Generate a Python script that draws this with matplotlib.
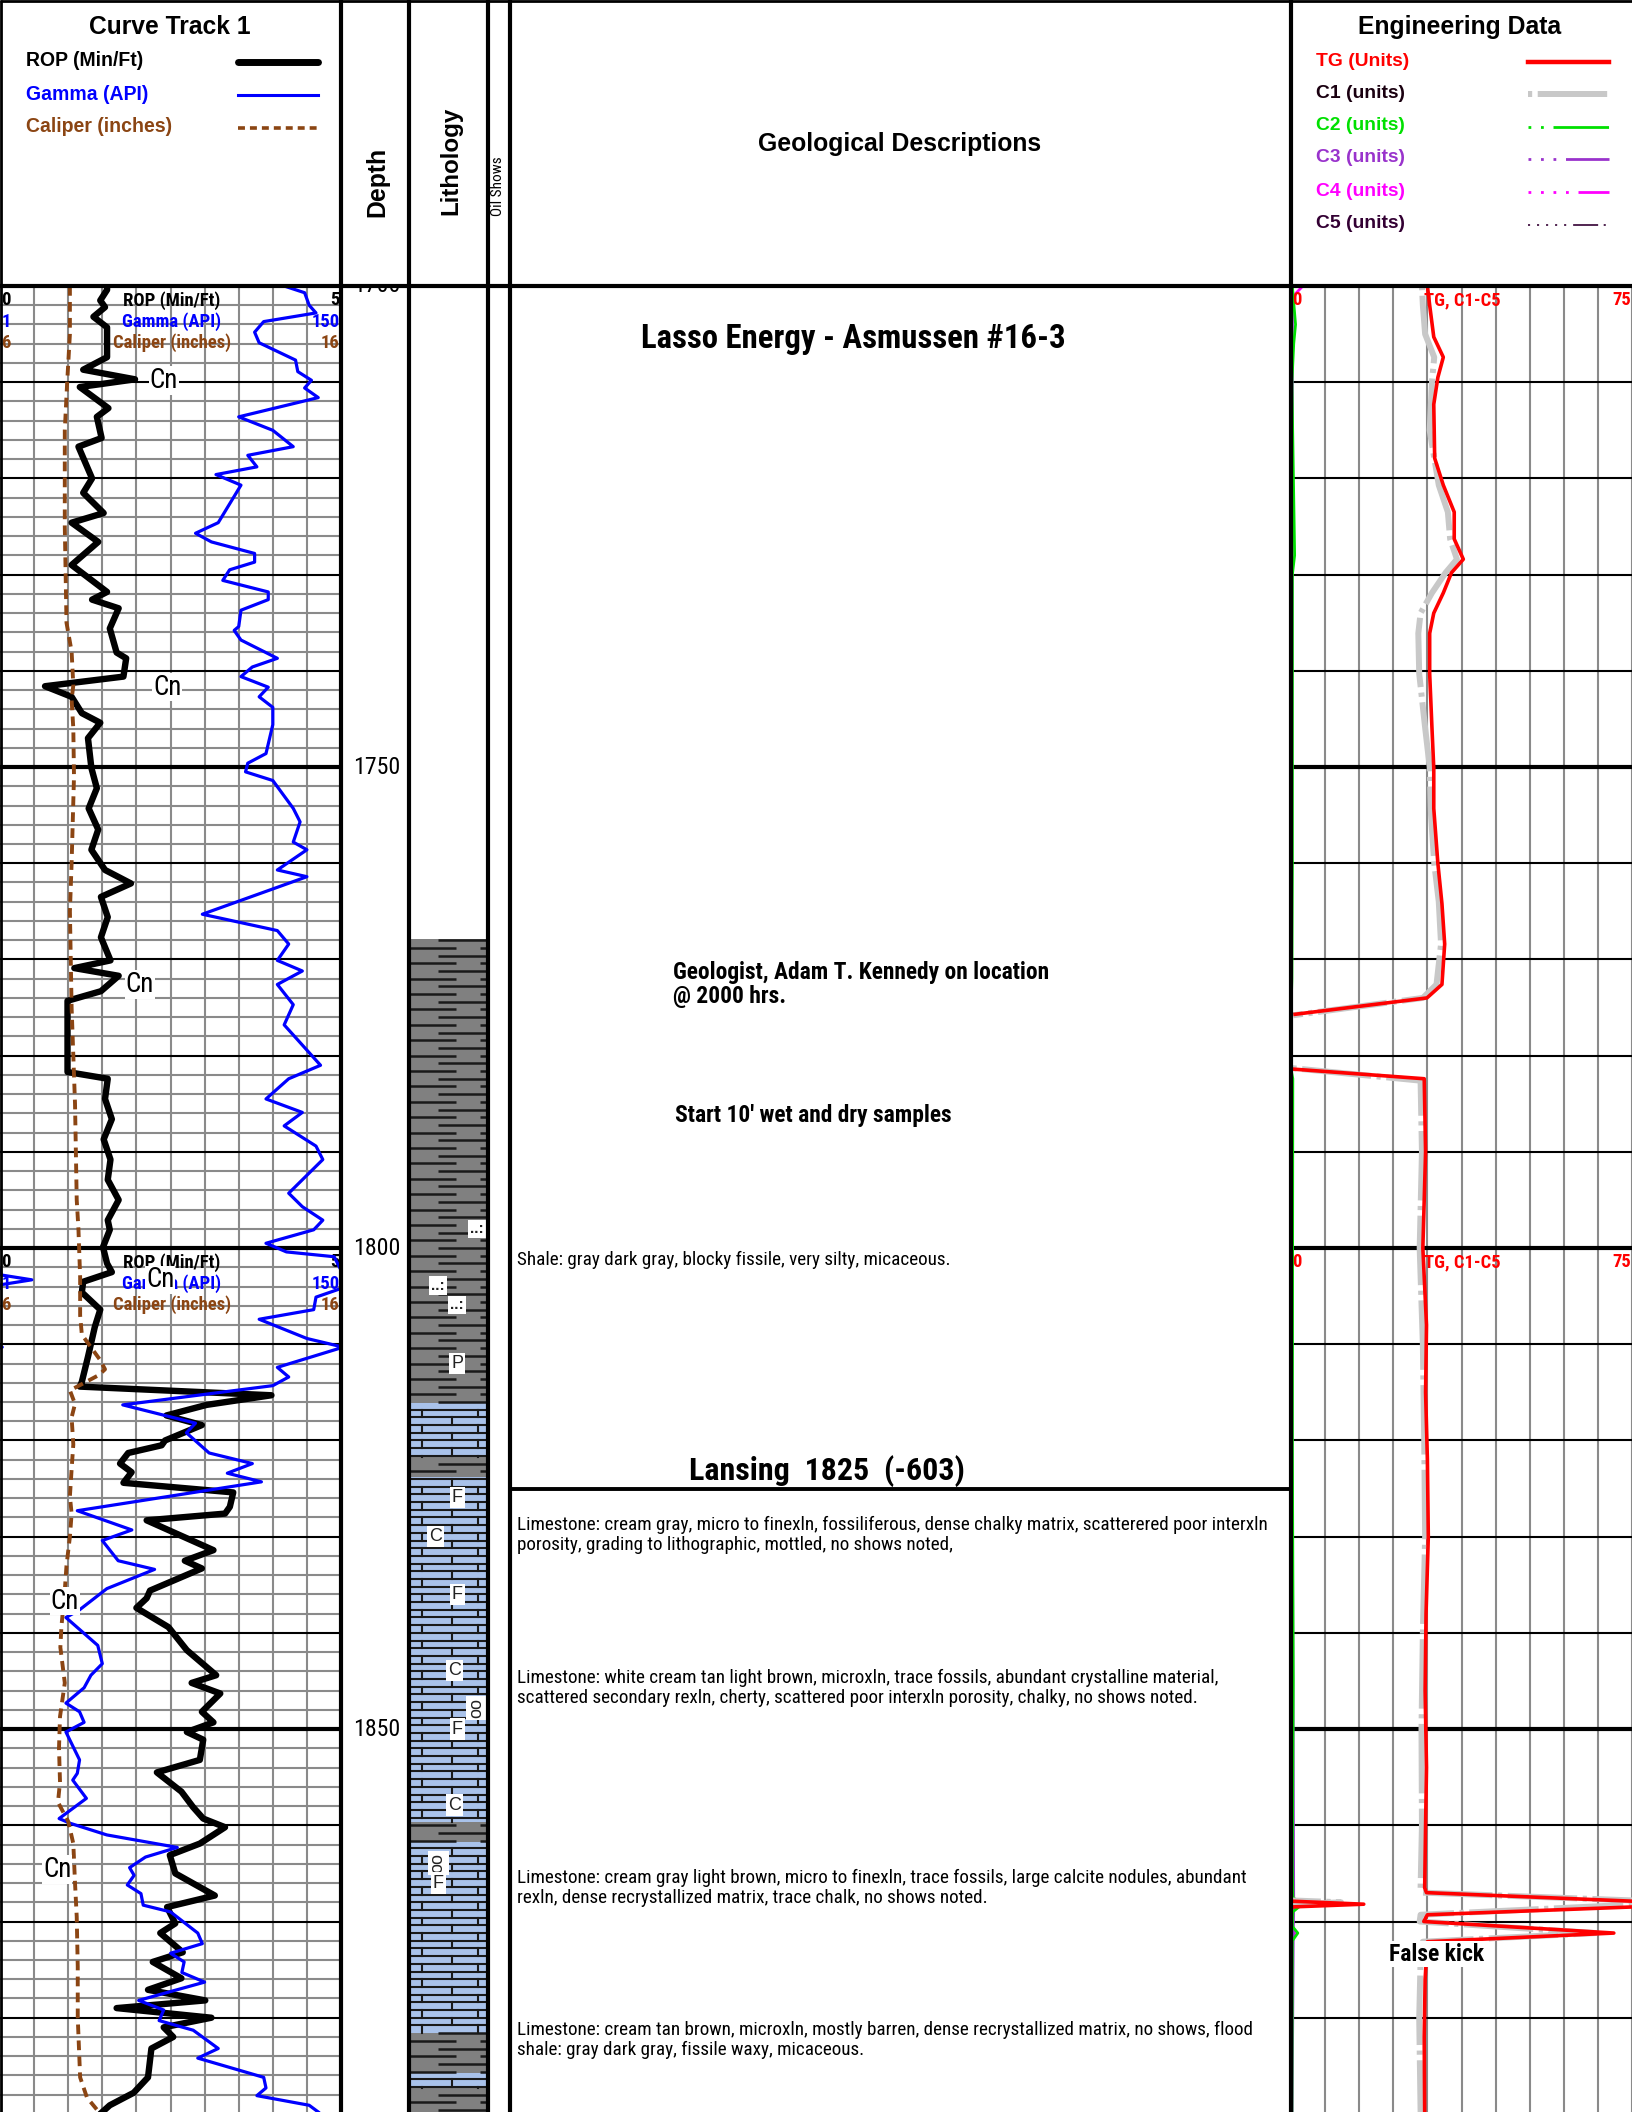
import numpy as np
import matplotlib
matplotlib.use('Agg')
import matplotlib.pyplot as plt
from matplotlib import font_manager
from matplotlib.font_manager import FontProperties
from matplotlib.textpath import TextPath

FONT = 'Liberation Sans'
_names = {f.name for f in font_manager.fontManager.ttflist}
NARROW = next((n for n in ['Liberation Sans Narrow', 'Arial Narrow', 'Roboto Condensed'] if n in _names), FONT)
plt.rcParams['font.family'] = [FONT, 'DejaVu Sans']
plt.rcParams['lines.scale_dashes'] = False

W, H, HEAD = 1632, 2112, 286
TOP, BASE = 1700, 1889.8

# ---------------- curve track 1 ----------------
rop_depth = [1700.0, 1700.4, 1701.5, 1702.2, 1703.2, 1704.3, 1707.4, 1708.7, 1709.7, 1710.5,
             1712.7, 1713.6, 1715.8, 1716.7, 1720.0, 1721.5, 1723.6, 1724.6, 1726.6, 1729.0,
             1731.8, 1732.6, 1733.5, 1735.6, 1738.1, 1738.7, 1740.6, 1741.6, 1742.7, 1744.4,
             1745.4, 1747.0, 1750.1, 1752.2, 1754.3, 1756.5, 1758.6, 1760.7, 1762.1, 1763.5,
             1765.6, 1767.7, 1770.1, 1770.9, 1771.7, 1773.3, 1774.3, 1781.7, 1782.4, 1784.5,
             1786.6, 1788.7, 1790.8, 1792.9, 1795.0, 1797.1, 1798.1, 1799.9, 1801.6, 1802.5,
             1803.5, 1804.6, 1806.4, 1808.2, 1811.3, 1813.9, 1814.4, 1815.3, 1816.3, 1817.4,
             1818.4, 1820.0, 1820.5, 1821.3, 1822.4, 1823.3, 1824.4, 1825.4, 1826.9, 1827.6,
             1828.3, 1831.4, 1832.5, 1833.3, 1835.6, 1836.4, 1837.4, 1839.4, 1841.8, 1844.4,
             1845.2, 1846.3, 1848.2, 1849.3, 1850.3, 1851.1, 1853.2, 1854.5, 1856.5, 1858.1,
             1859.3, 1860.2, 1861.9, 1863.1, 1865.0, 1867.3, 1868.5, 1870.2, 1871.2, 1873.2,
             1874.2, 1875.9, 1877.1, 1878.2, 1879.0, 1880.0, 1881.0, 1882.0, 1883.2, 1886.2,
             1887.8, 1889.1, 1889.8]
rop = [1.57, 1.57, 1.47, 1.54, 1.37, 1.57, 1.57, 1.22, 1.98, 1.17,
       1.59, 1.42, 1.49, 1.15, 1.35, 1.22, 1.52, 1.05, 1.44, 1.05,
       1.57, 1.35, 1.74, 1.61, 1.71, 1.85, 1.81, 0.66, 1.05, 1.20,
       1.47, 1.29, 1.34, 1.42, 1.30, 1.44, 1.34, 1.54, 1.92, 1.48,
       1.58, 1.48, 1.62, 1.09, 1.74, 1.48, 0.99, 0.99, 1.58, 1.54,
       1.64, 1.52, 1.62, 1.58, 1.74, 1.58, 1.61, 1.51, 1.57, 1.64,
       1.22, 1.20, 1.47, 1.39, 1.29, 1.20, 1.17, 3.98, 3.03, 2.44,
       2.96, 2.42, 2.37, 1.88, 1.76, 1.93, 1.81, 3.42, 3.37, 3.30,
       2.15, 3.13, 2.71, 2.96, 2.20, 2.15, 2.00, 2.47, 2.74, 3.17,
       2.81, 3.23, 2.96, 3.13, 2.74, 2.98, 2.93, 2.30, 2.66, 2.83,
       2.98, 3.30, 2.93, 2.49, 2.57, 3.15, 2.45, 2.57, 2.35, 2.68,
       2.24, 2.66, 2.17, 3.01, 1.71, 3.10, 2.40, 2.54, 2.22, 2.17,
       1.96, 1.61, 1.50]

gamma_depth = [1700.0, 1700.7, 1702.0, 1702.8, 1703.7, 1704.8, 1705.9, 1707.7, 1708.9, 1709.8,
               1710.6, 1711.6, 1713.6, 1715.0, 1716.7, 1717.6, 1718.8, 1719.6, 1720.7, 1724.6,
               1725.7, 1726.6, 1727.8, 1728.7, 1729.5, 1730.6, 1731.8, 1732.6, 1733.7, 1735.4,
               1735.8, 1736.8, 1738.7, 1739.6, 1740.6, 1741.7, 1742.7, 1743.8, 1745.6, 1748.6,
               1749.6, 1750.5, 1751.4, 1754.3, 1755.7, 1757.8, 1758.6, 1760.7, 1761.4, 1765.3,
               1767.0, 1768.4, 1770.1, 1771.2, 1772.6, 1774.7, 1776.8, 1778.9, 1781.0, 1782.4,
               1784.5, 1785.9, 1787.3, 1789.4, 1790.8, 1792.9, 1794.3, 1795.7, 1797.1, 1798.1,
               1799.5, 1800.4, 1800.9, 1802.3, 1802.8, 1803.3, 1803.8, 1804.2, 1805.1, 1806.4,
               1807.4, 1809.4, 1810.3, 1812.4, 1813.4, 1814.3, 1816.3, 1818.2, 1819.2, 1821.3,
               1822.4, 1823.4, 1824.3, 1827.3, 1829.3, 1830.4, 1832.5, 1833.4, 1835.4, 1837.6,
               1838.4, 1841.3, 1843.2, 1844.4, 1845.7, 1847.3, 1848.2, 1849.3, 1850.3, 1853.2,
               1854.6, 1855.3, 1857.2, 1859.3, 1859.8, 1861.0, 1862.3, 1863.3, 1864.4, 1865.2,
               1866.2, 1867.1, 1868.3, 1869.0, 1871.2, 1872.3, 1873.3, 1874.2, 1875.3, 1876.3,
               1878.2, 1879.2, 1880.3, 1881.3, 1883.2, 1884.2, 1886.2, 1887.3, 1888.1, 1889.1,
               1889.8]
gamma = [125, 134, 136, 139, 116, 112, 114, 130, 131, 137,
         134, 140, 105, 120, 129, 109, 113, 95, 106, 96,
         86, 93, 112, 112, 101, 98, 118, 118, 106, 105,
         103, 106, 122, 111, 106, 118, 114, 120, 120, 117,
         109, 108, 120, 129, 132, 129, 135, 122, 135, 89,
         122, 127, 122, 133, 122, 129, 125, 133, 141, 127,
         117, 133, 125, 139, 142, 133, 127, 133, 142, 138,
         117, 126, 147, 150.0, 150.6, 164, 150.6, 150.0, 139, 138,
         114, 135, 151, 122, 127, 120, 54, 86, 82, 92,
         111, 100, 115, 34, 58, 45, 52, 68, 47, 35,
         29, 43, 45, 40, 37, 29, 35, 37, 29, 35,
         34, 32, 38, 26, 31, 47, 78, 64, 57, 59,
         56, 62, 63, 75, 87, 89, 75, 81, 80, 90,
         61, 72, 70, 85, 96, 87, 116, 117, 113, 136,
         140]

cal_depth = [1700, 1705, 1710, 1715, 1725, 1735, 1738, 1741.5, 1743, 1746, 1751, 1760, 1765,
             1775, 1785, 1795, 1798, 1803, 1807, 1809, 1811.6, 1812.6, 1813.2, 1814.8,
             1816.2, 1817.6, 1820.4, 1823, 1825.8, 1827.6, 1830, 1833, 1835.6, 1839.4,
             1841.5, 1845.2, 1848.7, 1852, 1855.5, 1857.6, 1859.6, 1861.9, 1866, 1869.5,
             1874.7, 1880, 1886.2, 1888.3, 1889.8]
caliper = [8.05, 8.05, 7.97, 7.9, 7.9, 7.95, 8.1, 8.15, 8.1, 8.15, 8.17, 8.1, 8.05,
           8.1, 8.2, 8.25, 8.3, 8.35, 8.35, 8.4, 8.93, 9.08, 8.9, 8.05,
           8.2, 8.1, 8.15, 8.1, 8.05, 8.1, 8.05, 7.95, 7.9, 7.8,
           7.77, 7.9, 7.76, 7.73, 7.76, 7.7, 8.0, 8.15, 8.2, 8.25,
           8.28, 8.28, 8.35, 8.55, 8.9]

cn_depth = [1709.8, 1741.7, 1772.6, 1803.3, 1836.7, 1864.6]
cn_rop = [2.40, 2.45, 2.05, 2.35, 0.95, 0.84]

# ---------------- engineering data ----------------
nan = np.nan
tg_depth = [1700.0, 1702.0, 1705.3, 1707.4, 1709.5, 1712.3, 1717.9, 1720.7, 1723.5, 1726.3,
            1728.4, 1729.8, 1731.9, 1734.0, 1736.1, 1740.3, 1745.9, 1750.1, 1754.3, 1760.0,
            1764.2, 1768.4, 1772.6, 1774.0, 1775.7, 1778.0, 1781.4, 1782.4, 1790.0, 1800.0,
            1808.0, 1815.0, 1822.0, 1830.0, 1838.0, 1846.0, 1854.0, 1860.0, 1866.5, 1867.0,
            1868.2, 1869.3, 1870.0, 1871.2, 1872.1, 1876.0, 1882.0, 1889.8]
tg = [30.0, 30.5, 31.4, 33.5, 32.3, 31.4, 31.6, 33.5, 35.9, 35.9,
      37.9, 35.3, 33.5, 31.4, 30.5, 30.5, 31.0, 31.4, 31.4, 32.3,
      33.2, 33.8, 33.2, 29.9, 0.9, nan, 0.5, 29.3, 29.6, 29.0,
      29.8, 29.6, 30.0, 30.2, 29.7, 29.5, 29.8, 29.6, 29.4, 29.8,
      91.0, 30.0, 29.2, 71.0, 30.0, 29.5, 29.3, 29.4]

c1_depth = [1700.0, 1702.0, 1705.0, 1707.4, 1710.0, 1715.0, 1720.7, 1723.5, 1726.3, 1728.4,
            1729.8, 1731.9, 1734.0, 1736.1, 1740.3, 1745.9, 1750.0, 1755.0, 1760.0, 1764.0,
            1768.4, 1772.6, 1774.0, 1775.8, 1778.0, 1781.3, 1782.6, 1790.0, 1800.0, 1810.0,
            1820.0, 1830.0, 1840.0, 1850.0, 1860.0, 1866.5, 1867.0, 1868.0, 1869.3, 1870.0,
            1871.2, 1872.1, 1874.0, 1880.0, 1889.8]
c1 = [28.8, 29.0, 29.5, 31.5, 31.0, 30.5, 32.5, 34.5, 35.0, 36.5,
      34.0, 31.0, 28.5, 28.0, 28.2, 29.5, 30.5, 30.8, 31.5, 32.5,
      33.0, 32.0, 29.0, 0.5, nan, 0.3, 28.5, 28.8, 28.3, 29.0,
      29.3, 29.5, 29.0, 28.7, 28.8, 28.5, 29.0, 86.0, 28.5, 28.3,
      67.0, 29.0, 28.5, 28.2, 28.5]

c2_depth = [1700, 1704, 1706, 1710, 1728, 1730, 1760, 1772, 1775.7, 1778, 1781.4, 1782.4,
            1820, 1845, 1864, 1867.5, 1868.2, 1869, 1870.5, 1871.2, 1872, 1889.8]
c2 = [0.3, 1.0, 0.6, 0.2, 0.8, 0.3, 0.3, 0.2, 0.0, nan, 0.0, 0.4,
      0.3, 0.5, 0.3, 0.4, 2.5, 0.4, 0.3, 1.5, 0.3, 0.2]
c3_depth = [1700, 1740, 1775.7, 1778, 1781.4, 1820, 1868.2, 1871.2, 1889.8]
c3 = [0.3, 0.25, 0.1, nan, 0.1, 0.25, 0.6, 0.5, 0.25]
c4_depth = [1700, 1700.8, 1702, 1775.7, 1778, 1781.4, 1867.5, 1868.2, 1869, 1870.5, 1871.2, 1872, 1889.8]
c4 = [2.6, 1.0, 0.1, 0.05, nan, 0.05, 0.1, 1.2, 0.1, 0.1, 1.0, 0.1, 0.05]
c5_depth = [1700, 1775.7, 1778, 1781.4, 1889.8]
c5 = [0.05, 0.05, nan, 0.05, 0.05]

# ---------------- lithology ----------------
lith_top = [1767.9, 1816.1, 1821.7, 1823.8, 1859.7, 1861.7, 1881.6, 1885.7, 1887.3]
lith_bot = [1816.1, 1821.7, 1823.8, 1859.7, 1861.7, 1881.6, 1885.7, 1887.3, 1889.8]
lith_kind = ['shale', 'lime', 'shale', 'lime', 'shale', 'lime', 'shale', 'lime', 'shale']
sym_text = ['..:', '..:', '..:', 'P', 'F', 'C', 'F', 'C', 'oo', 'F', 'C', 'oo', 'F']
sym_depth = [1798.0, 1803.9, 1805.9, 1812.0, 1825.9, 1830.0, 1836.0, 1843.9, 1847.8, 1850.0, 1857.9, 1863.9, 1866.0]
sym_x = [0.86, 0.37, 0.61, 0.61, 0.61, 0.34, 0.61, 0.58, 0.86, 0.61, 0.58, 0.37, 0.37]

# ---------------- descriptions ----------------
desc_text = [
    "Shale: gray dark gray, blocky fissile, very silty, micaceous.",
    "Limestone: cream gray, micro to finexln, fossiliferous, dense chalky matrix, scatterered poor interxln\n"
    "porosity, grading to lithographic, mottled, no shows noted,",
    "Limestone: white cream tan light brown, microxln, trace fossils, abundant crystalline material,\n"
    "scattered secondary rexln, cherty, scattered poor interxln porosity, chalky, no shows noted.",
    "Limestone: cream gray light brown, micro to finexln, trace fossils, large calcite nodules, abundant\n"
    "rexln, dense recrystallized matrix, trace chalk, no shows noted.",
    "Limestone: cream tan brown, microxln, mostly barren, dense recrystallized matrix, no shows, flood\n"
    "shale: gray dark gray, fissile waxy, micaceous.",
]
desc_depth = [1801.2, 1829.85, 1845.75, 1866.55, 1882.35]
top_formation = "Lansing  1825  (-603)"
top_depth = 1825


def fit(s, px, weight='normal', family=FONT):
    fp = FontProperties(family=family, weight=weight)
    w = TextPath((0, 0), s, size=10, prop=fp).get_extents().width
    return 10 * px * 0.72 / w


def track(x0, x1, xlim):
    a = fig.add_axes([x0 / W, 0, (x1 - x0) / W, (H - HEAD) / H])
    a.set_xlim(*xlim)
    a.set_ylim(BASE, TOP)
    a.axis('off')
    return a


fig = plt.figure(figsize=(W / 100, H / 100), dpi=100)
GRAY = '#8a8a8a'
grid_d = np.arange(1702, 1890, 2)
NF = [NARROW, 'DejaVu Sans']

# curve track
ax = track(0, 341, (0, 5))
ax.vlines(np.arange(0.5, 5, 0.5), BASE, TOP, color=GRAY, lw=1.5, zorder=1)
for d in grid_d:
    if d % 50 == 0:
        ax.axhline(d, color='k', lw=3, zorder=2)
    elif d % 10 == 0:
        ax.axhline(d, color='k', lw=1.5, zorder=2)
    else:
        ax.axhline(d, color=GRAY, lw=1.5, zorder=1)

s_lab = fit('ROP (Min/Ft)', 95, 'bold', NARROW)
for t0 in (1700, 1800):
    for off, name, lo, hi, col in [(1.5, 'ROP (Min/Ft)', '0', '5', 'black'),
                                   (3.7, 'Gamma (API)', '1', '150', 'blue'),
                                   (5.9, 'Caliper (inches)', '6', '16', '#8b4513')]:
        kw = dict(color=col, fontsize=s_lab, fontweight='bold', family=NF, va='center', zorder=3)
        ax.text(0.02, t0 + off, lo, ha='left', **kw)
        ax.text(2.52, t0 + off, name, ha='center', **kw)
        ax.text(4.98, t0 + off, hi, ha='right', **kw)

ax.plot(rop, rop_depth, color='black', lw=4.6, zorder=4)

ax_g = track(0, 341, (0, 150))
g = np.array(gamma, dtype=float)
ax_g.plot(g, gamma_depth, color='blue', lw=2.3)
ax_g.plot(g - 150, gamma_depth, color='blue', lw=2.3)

ax_c = track(0, 341, (6, 16))
ax_c.plot(caliper, cal_depth, color='#8b4513', lw=2.8, linestyle=(0, (7, 4.5)), zorder=3)
s_cn = fit('Cn', 25, family=NARROW)
for d, r in zip(cn_depth, cn_rop):
    ax_c.text(6 + r * 2, d, 'Cn', fontsize=s_cn, family=NF, ha='center', va='center', zorder=10,
              bbox=dict(fc='white', ec='none', pad=0.5))

# depth column
ax_d = track(341, 409, (0, 1))
s_dep = fit('1750', 44, family=NARROW)
for d in [1700, 1750, 1800, 1850]:
    ax_d.text(0.53, d, str(d), fontsize=s_dep, family=NF, ha='center', va='center', clip_on=True)

# lithology column
ax_l = track(409, 488, (0, 1))
LIME, SHALE = '#a9c2ea', '#808080'
for t, b, k in zip(lith_top, lith_bot, lith_kind):
    ax_l.axhspan(t, b, color=SHALE if k == 'shale' else LIME, lw=0, zorder=1)
    rows = np.arange(np.ceil(t / 0.8) * 0.8, b, 0.8)
    for r in rows:
        odd = int(round(r / 0.8)) % 2
        if k == 'shale':
            segs = [(0, 0.6), (0.9, 1.0)] if odd else [(0.37, 1.0)]
            for x0, x1 in segs:
                ax_l.plot([x0, x1], [r, r], color='#1a1a1a', lw=1.8, solid_capstyle='butt', zorder=2)
        else:
            ax_l.plot([0, 1], [r, r], color='#1a1a1a', lw=1.5, zorder=2)
            for xv in ([0.17, 0.87] if odd else [0.54]):
                ax_l.plot([xv, xv], [r, min(r + 0.8, b)], color='#1a1a1a', lw=1.5, zorder=2)
for s, d, xv in zip(sym_text, sym_depth, sym_x):
    ax_l.text(xv, d, s, fontsize=11 if s.startswith('.') else 13, fontweight='bold' if s.startswith('.') else 'normal',
              ha='center', va='center', rotation=90 if s == 'oo' else 0, zorder=5, color='#222222',
              bbox=dict(fc='white', ec='none', pad=1.5))

# oil shows column (empty)
ax_o = track(488, 510, (0, 1))

# geological descriptions
ax_t = track(510, 1291, (0, 1))
s_desc = fit(desc_text[1].split('\n')[0], 751, family=NARROW)
for d, s in zip(desc_depth, desc_text):
    ax_t.text(0.009, d, s, fontsize=s_desc, family=NF, ha='left', va='center', linespacing=1.15)
ax_t.axhline(top_depth, color='black', lw=2.8)
ax_t.text(0.406, top_depth - 0.15, top_formation, fontsize=fit(top_formation, 272, 'bold', NARROW),
          family=NF, fontweight='bold', ha='center', va='bottom', bbox=dict(fc='white', ec='none', pad=0))
ax_t.text(0.439, 1705.5, 'Lasso Energy - Asmussen #16-3', ha='center', va='center', family=NF,
          fontsize=fit('Lasso Energy - Asmussen #16-3', 421, 'bold', NARROW), fontweight='bold')
s_geo = fit('Geologist, Adam T. Kennedy on location', 374, 'bold', NARROW)
ax_t.text(0.209, 1772.6, 'Geologist, Adam T. Kennedy on location\n@ 2000 hrs.', ha='left', va='center',
          fontsize=s_geo, family=NF, fontweight='bold', linespacing=1.1)
ax_t.text(0.211, 1786.2, "Start 10' wet and dry samples", ha='left', va='center', family=NF,
          fontsize=fit("Start 10' wet and dry samples", 275, 'bold', NARROW), fontweight='bold')

# engineering track
ax_e = track(1291, 1632, (0, 75))
ax_e.vlines(np.arange(7.5, 76, 7.5), BASE, TOP, color=GRAY, lw=1.5, zorder=1)
for d in grid_d:
    if d % 10 == 0:
        ax_e.axhline(d, color='k', lw=3 if d % 50 == 0 else 1.5, zorder=2)

eng_styles = {
    'TG': dict(color='#ff0000', lw=3.2, linestyle='-'),
    'C1': dict(color='#c8c8c8', lw=4.3, linestyle=(0, (3, 4, 50, 4))),
    'C2': dict(color='#00e000', lw=2.0, linestyle=(0, (2, 7, 2, 7, 40, 6))),
    'C3': dict(color='#9933cc', lw=2.0, linestyle=(0, (2, 7, 2, 7, 2, 7, 35, 6))),
    'C4': dict(color='#ff00ff', lw=2.0, linestyle=(0, (2, 7, 2, 7, 2, 7, 2, 7, 28, 6))),
    'C5': dict(color='#330033', lw=1.2, linestyle=(0, (1.5, 5, 1.5, 5, 1.5, 5, 1.5, 5, 1.5, 5, 18, 4))),
}
for key, dep, val in [('C5', c5_depth, c5), ('C4', c4_depth, c4), ('C3', c3_depth, c3),
                      ('C2', c2_depth, c2), ('C1', c1_depth, c1), ('TG', tg_depth, tg)]:
    v = np.array(val, dtype=float)
    st = dict(eng_styles[key])
    if key in ('C2', 'C3', 'C4', 'C5'):
        st['linestyle'] = '-'
    if key == 'TG':
        st['lw'] = 2.6
    ax_e.plot(v, dep, zorder=4, **st)
    ax_e.plot(v - 75, dep, zorder=4, **st)

s_eng = fit('TG, C1-C5', 75, 'bold', NARROW)
for t0 in (1700, 1800):
    kw = dict(color='red', fontsize=s_eng, fontweight='bold', family=NF, va='center', zorder=5)
    ax_e.text(0.3, t0 + 1.5, '0', ha='left', **kw)
    ax_e.text(37.6, t0 + 1.5, 'TG, C1-C5', ha='center', **kw)
    ax_e.text(74.8, t0 + 1.5, '75', ha='right', **kw)
ax_e.text(32.1, 1873.4, 'False kick', fontsize=fit('False kick', 94, 'bold', NARROW), fontweight='bold',
          family=NF, ha='center', va='center', zorder=6, bbox=dict(fc='white', ec='none', pad=1))

# ---------------- header ----------------
hd = fig.add_axes([0, 1 - HEAD / H, 1, HEAD / H])
hd.set_xlim(0, W)
hd.set_ylim(HEAD, 0)
hd.axis('off')

hd.text(170, 27, 'Curve Track 1', fontsize=fit('Curve Track 1', 160, 'bold'), fontweight='bold', ha='center', va='center')
s_leg = fit('Caliper (inches)', 145, 'bold')
for y, name, col, st in [(61, 'ROP (Min/Ft)', 'black', dict(color='black', lw=5, solid_capstyle='round')),
                         (94, 'Gamma (API)', 'blue', dict(color='blue', lw=2.2)),
                         (127, 'Caliper (inches)', '#8b4513', dict(color='#8b4513', lw=2.6, linestyle=(0, (5, 3.6))))]:
    hd.text(26, y, name, color=col, fontsize=s_leg, fontweight='bold', ha='left', va='center')
    hd.plot([238, 318], [y + 1, y + 1], **st)

hd.text(1460, 27, 'Engineering Data', fontsize=fit('Engineering Data', 202, 'bold'), fontweight='bold', ha='center', va='center')
s_eleg = fit('TG (Units)', 92, 'bold')
for y, key, name, col in [(61, 'TG', 'TG (Units)', '#ff0000'), (93, 'C1', 'C1 (units)', '#1a0010'),
                          (126, 'C2', 'C2 (units)', '#00e000'), (158, 'C3', 'C3 (units)', '#9933cc'),
                          (191, 'C4', 'C4 (units)', '#ff00ff'), (224, 'C5', 'C5 (units)', '#330033')]:
    hd.text(1316, y, name, color=col, fontsize=s_eleg, fontweight='bold', ha='left', va='center')
    hd.plot([1528, 1609], [y + 1, y + 1], **eng_styles[key])

hd.text(377, 182, 'Depth', rotation=90, fontsize=fit('Depth', 67, 'bold'), fontweight='bold', ha='center', va='center')
hd.text(451, 161, 'Lithology', rotation=90, fontsize=fit('Lithology', 107, 'bold'), fontweight='bold', ha='center', va='center')
hd.text(498, 186, 'Oil Shows', rotation=90, fontsize=fit('Oil Shows', 58, family=NARROW), family=NF,
        ha='center', va='center')
hd.text(900, 144, 'Geological Descriptions', fontsize=fit('Geological Descriptions', 281, 'bold'),
        fontweight='bold', ha='center', va='center')

# ---------------- frame ----------------
ov = fig.add_axes([0, 0, 1, 1], zorder=20)
ov.set_xlim(0, W)
ov.set_ylim(H, 0)
ov.axis('off')
ov.patch.set_alpha(0)
ov.vlines([341, 409, 488, 510, 1291], 0, H, color='black', lw=3)
ov.vlines([1], 0, H, color='black', lw=2)
ov.hlines([HEAD], 0, W, color='black', lw=3)
ov.hlines([1], 0, W, color='black', lw=2)

fig.savefig('out.png', dpi=100)
